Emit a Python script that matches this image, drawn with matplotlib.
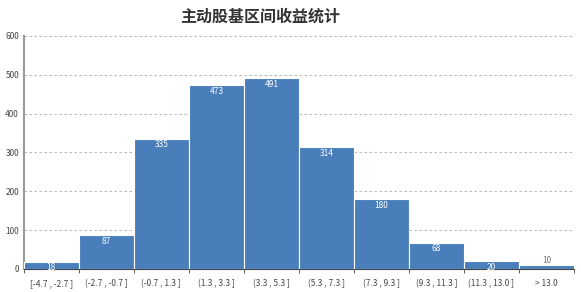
import matplotlib.pyplot as plt
import numpy as np

plt.rcParams['font.family'] = ['Noto Sans CJK SC', 'DejaVu Sans']

bins = ["[-4.7 , -2.7 ]", "(-2.7 , -0.7 ]", "(-0.7 , 1.3 ]", "(1.3 , 3.3 ]", "(3.3 , 5.3 ]",
        "(5.3 , 7.3 ]", "(7.3 , 9.3 ]", "(9.3 , 11.3 ]", "(11.3 , 13.0 ]", "> 13.0"]
counts = [18, 87, 335, 473, 491, 314, 180, 68, 20, 10]

fig = plt.figure(figsize=(5.81, 2.92), dpi=100)
ax = fig.add_axes([0.041, 0.079, 0.947, 0.798])

x = np.arange(len(bins))
bars = ax.bar(x, counts, width=1.0, color='#4a7ebb', edgecolor='white', linewidth=0.8, zorder=3)
for xi, c in zip(x, counts):
    if c > 12:
        ax.text(xi, c - 4, str(c), ha='center', va='top', color='white', fontsize=6)
    else:
        ax.text(xi, c + 1, str(c), ha='center', va='bottom', color='#777777', fontsize=6)

ax.set_xlim(-0.5, len(bins) - 0.5)
ax.set_ylim(0, 600)
ax.set_yticks(range(0, 601, 100))
ax.set_xticks(x)
ax.set_xticklabels(bins, fontsize=6, color='#444444')
ax.tick_params(axis='y', labelsize=6, length=0, colors='#444444')
ax.tick_params(axis='x', length=0, pad=7)
ax.set_xticks(np.arange(-0.5, len(bins) + 0.5, 1), minor=True)
ax.tick_params(axis='x', which='minor', length=3, color='#444444')
ax.yaxis.grid(True, linestyle=(0, (3, 3)), color='#aaaaaa', linewidth=0.6, zorder=0)
for s in ['top', 'right']:
    ax.spines[s].set_visible(False)
ax.spines['left'].set_color('#999999')
ax.spines['left'].set_linewidth(1.5)
ax.spines['bottom'].set_color('#444444')

fig.text(0.448, 0.942, "主动股基区间收益统计", ha='center', va='center', fontsize=11.5,
         fontweight='bold', color='#333333')

plt.savefig("out.png", dpi=100)
